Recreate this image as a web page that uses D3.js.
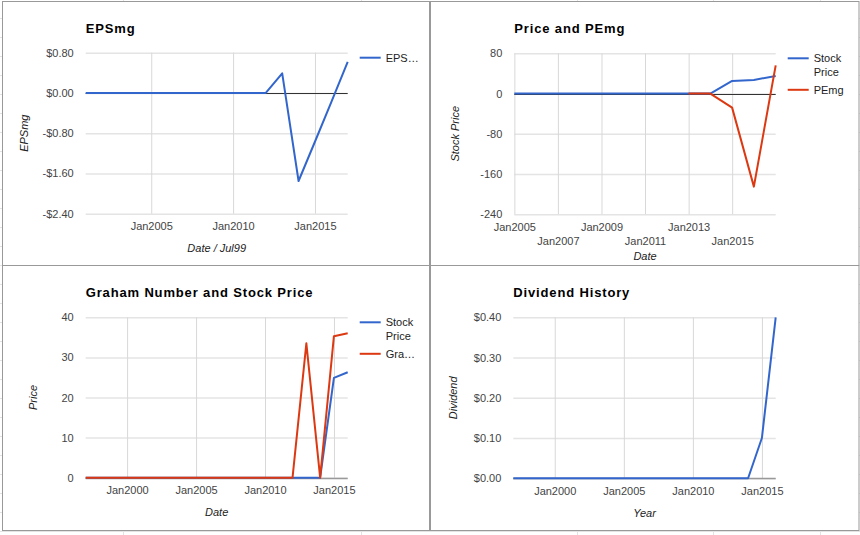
<!DOCTYPE html>
<html>
<head>
<meta charset="utf-8">
<script src="https://cdn.jsdelivr.net/npm/d3@7"></script>
<style>
  html, body { margin: 0; padding: 0; background: #fff; }
  svg { display: block; font-family: Arial, "Liberation Sans", sans-serif; }
</style>
</head>
<body>
<svg id="chart" width="860" height="535"></svg>
<script>
// --- EPSmg ---
const epsYears = [2000, 2001, 2002, 2003, 2004, 2005, 2006, 2007, 2008, 2009, 2010, 2011, 2012, 2013, 2014, 2015, 2016];
const epsValues = [0, 0, 0, 0, 0, 0, 0, 0, 0, 0, 0, 0, 0.39, -1.75, -0.97, -0.18, 0.62];
const epsYTicks = [0.8, 0, -0.8, -1.6, -2.4];
const epsXTicks = [2005, 2010, 2015];

// --- Price and PEmg ---
const priceYears = [2004, 2005, 2006, 2007, 2008, 2009, 2010, 2011, 2012, 2013, 2014, 2015, 2016];
const priceValues = [0, 0, 0, 0, 0, 0, 0, 0, 0, 0, 25, 27, 35];
const pemgYears = [2012, 2013, 2014, 2015, 2016];
const pemgValues = [0, 0, -28, -185, 56];
const priceYTicks = [80, 0, -80, -160, -240];
const priceXTicks = [2005, 2007, 2009, 2011, 2013, 2015];

// --- Graham Number and Stock Price ---
const grahamYears = [1996, 1997, 1998, 1999, 2000, 2001, 2002, 2003, 2004, 2005, 2006, 2007, 2008, 2009, 2010, 2011, 2012, 2013, 2014, 2015];
const grahamStock = [0, 0, 0, 0, 0, 0, 0, 0, 0, 0, 0, 0, 0, 0, 0, 0, 0, 0, 24.9, 26.3];
const grahamNumber = [0, 0, 0, 0, 0, 0, 0, 0, 0, 0, 0, 0, 0, 0, 0, 0, 33.5, 0, 35.3, 36.0];
const grahamYTicks = [0, 10, 20, 30, 40];

// --- Dividend History ---
const divYears = [1996, 1997, 1998, 1999, 2000, 2001, 2002, 2003, 2004, 2005, 2006, 2007, 2008, 2009, 2010, 2011, 2012, 2013, 2014, 2015];
const divValues = [0, 0, 0, 0, 0, 0, 0, 0, 0, 0, 0, 0, 0, 0, 0, 0, 0, 0, 0.10, 0.40];
const divYTicks = [0, 0.1, 0.2, 0.3, 0.4];
const yearXTicks = [2000, 2005, 2010, 2015];

const BLUE = "#3366cc", RED = "#dc3912";
const yearEnd = yr => new Date(yr, 11, 31);
const jan = yr => new Date(yr, 0, 1);
const dollars = v => (v < 0 ? "-" : "") + "$" + Math.abs(v).toFixed(2);

const svg = d3.select("#chart");

// spreadsheet grid peeking out behind the panels
const sheetCols = [123, 361, 577, 713, 820];
const sheetRows = d3.range(18, 535, 19);
svg.append("g").attr("stroke", "#e3e3e3")
  .call(g => g.selectAll("line.c").data(sheetCols).join("line")
    .attr("x1", d => d + 0.5).attr("x2", d => d + 0.5).attr("y1", 0).attr("y2", 535))
  .call(g => g.selectAll("line.r").data(sheetRows).join("line")
    .attr("x1", 0).attr("x2", 860).attr("y1", d => d + 0.5).attr("y2", d => d + 0.5));

// panel frames
svg.append("rect").attr("x", 2.5).attr("y", 1.5).attr("width", 856.5).attr("height", 529)
  .attr("fill", "#fff").attr("stroke", "#999");
svg.append("line").attr("x1", 430).attr("x2", 430).attr("y1", 1).attr("y2", 531)
  .attr("stroke", "#999").attr("stroke-width", 2);
svg.append("line").attr("x1", 2).attr("x2", 859).attr("y1", 265.5).attr("y2", 265.5)
  .attr("stroke", "#999");

function panel(cfg) {
  const g = svg.append("g");
  const x = d3.scaleTime().domain(cfg.xDomain).range([cfg.left, cfg.right]);
  const y = d3.scaleLinear().domain(cfg.yDomain).range([cfg.bottom, cfg.top]);

  // horizontal gridlines + y labels
  const ya = g.append("g").attr("transform", `translate(${cfg.left},0)`)
    .call(d3.axisLeft(y).tickValues(cfg.yTicks).tickFormat(cfg.yFormat)
      .tickSize(-(cfg.right - cfg.left)).tickPadding(12));
  ya.select(".domain").remove();
  ya.selectAll(".tick line").attr("stroke", "#e4e4e4").attr("stroke-width", 1.5);
  ya.selectAll(".tick text").attr("fill", "#444").attr("font-size", 11).attr("font-family", null);

  // vertical gridlines + x labels
  const xa = g.append("g").attr("transform", `translate(0,${cfg.bottom})`)
    .call(d3.axisBottom(x).tickValues(cfg.xTicks.map(jan)).tickFormat(d3.timeFormat("Jan%Y"))
      .tickSize(-(cfg.bottom - cfg.top)));
  xa.select(".domain").remove();
  xa.selectAll(".tick line").attr("stroke", "#d8d8d8");
  xa.selectAll(".tick text").attr("fill", "#444").attr("font-size", 11).attr("font-family", null)
    .attr("dy", 0).attr("y", (d, i) => cfg.staggerX && i % 2 ? 30.5 : 16.8);

  // zero line
  if (cfg.zeroLine) {
    g.append("line").attr("x1", cfg.left).attr("x2", cfg.right)
      .attr("y1", Math.round(y(0)) + 0.5).attr("y2", Math.round(y(0)) + 0.5)
      .attr("stroke", cfg.zeroLine).attr("stroke-width", cfg.zeroWidth || 1);
  }

  // series
  const line = d3.line().x(d => x(d[0])).y(d => y(d[1]));
  cfg.series.forEach(s => {
    g.append("path").datum(s.years.map((yr, i) => [yearEnd(yr), s.values[i]]))
      .attr("d", line).attr("fill", "none").attr("stroke", s.color)
      .attr("stroke-width", 2).attr("stroke-linejoin", "round");
  });

  // title
  g.append("text").attr("x", cfg.left).attr("y", cfg.titleY).text(cfg.title)
    .attr("font-size", 13).attr("font-weight", "bold").attr("letter-spacing", 0.85).attr("fill", "#000");

  // axis titles
  g.append("text").attr("x", (cfg.left + cfg.right) / 2).attr("y", cfg.bottom + cfg.xTitleOffset)
    .attr("text-anchor", "middle").attr("font-size", 11).attr("font-style", "italic")
    .attr("fill", "#222").text(cfg.xTitle);
  g.append("text")
    .attr("transform", `translate(${cfg.yTitleX},${(cfg.top + cfg.bottom) / 2}) rotate(-90)`)
    .attr("text-anchor", "middle").attr("dy", "0.35em").attr("font-size", 11)
    .attr("font-style", "italic").attr("fill", "#222").text(cfg.yTitle);

  // legend
  if (cfg.legend) {
    let ly = cfg.top + 5;
    cfg.legend.forEach(item => {
      g.append("line").attr("x1", cfg.right + 12).attr("x2", cfg.right + 33)
        .attr("y1", ly).attr("y2", ly).attr("stroke", item.color).attr("stroke-width", 2);
      item.lines.forEach((t, k) => {
        g.append("text").attr("x", cfg.right + 38).attr("y", ly + 4 + k * 14)
          .attr("font-size", 11).attr("fill", "#222").text(t);
      });
      ly += 17.5 + (item.lines.length - 1) * 14;
    });
  }
}

panel({
  title: "EPSmg", titleY: 33.3,
  left: 85.7, right: 347.7, top: 52.7, bottom: 213.7,
  xDomain: d3.extent(epsYears.map(yearEnd)), yDomain: [-2.4, 0.8],
  yTicks: epsYTicks, yFormat: dollars, xTicks: epsXTicks,
  zeroLine: "#333",
  series: [{ years: epsYears, values: epsValues, color: BLUE }],
  xTitle: "Date / Jul99", xTitleOffset: 38.5, yTitle: "EPSmg", yTitleX: 24,
  legend: [{ color: BLUE, lines: ["EPS\u2026"] }]
});

panel({
  title: "Price and PEmg", titleY: 32.7,
  left: 514.3, right: 775.7, top: 53.3, bottom: 214.3,
  xDomain: d3.extent(priceYears.map(yearEnd)), yDomain: [-240, 80],
  yTicks: priceYTicks, yFormat: v => String(v), xTicks: priceXTicks, staggerX: true,
  zeroLine: "#333",
  series: [
    { years: priceYears, values: priceValues, color: BLUE },
    { years: pemgYears, values: pemgValues, color: RED }
  ],
  xTitle: "Date", xTitleOffset: 45.7, yTitle: "Stock Price", yTitleX: 455,
  legend: [{ color: BLUE, lines: ["Stock", "Price"] }, { color: RED, lines: ["PEmg"] }]
});

panel({
  title: "Graham Number and Stock Price", titleY: 296.7,
  left: 85.7, right: 347.7, top: 317.3, bottom: 477.7,
  xDomain: d3.extent(grahamYears.map(yearEnd)), yDomain: [0, 40],
  yTicks: grahamYTicks, yFormat: v => String(v), xTicks: yearXTicks,
  zeroLine: "#999", zeroWidth: 1.5,
  series: [
    { years: grahamYears, values: grahamStock, color: BLUE },
    { years: grahamYears, values: grahamNumber, color: RED }
  ],
  xTitle: "Date", xTitleOffset: 38.6, yTitle: "Price", yTitleX: 33,
  legend: [{ color: BLUE, lines: ["Stock", "Price"] }, { color: RED, lines: ["Gra\u2026"] }]
});

panel({
  title: "Dividend History", titleY: 297,
  left: 513.3, right: 775.7, top: 317.3, bottom: 478.3,
  xDomain: d3.extent(divYears.map(yearEnd)), yDomain: [0, 0.4],
  yTicks: divYTicks, yFormat: dollars, xTicks: yearXTicks,
  zeroLine: "#999", zeroWidth: 1.5,
  series: [{ years: divYears, values: divValues, color: BLUE }],
  xTitle: "Year", xTitleOffset: 38.7, yTitle: "Dividend", yTitleX: 453
});
</script>
</body>
</html>
